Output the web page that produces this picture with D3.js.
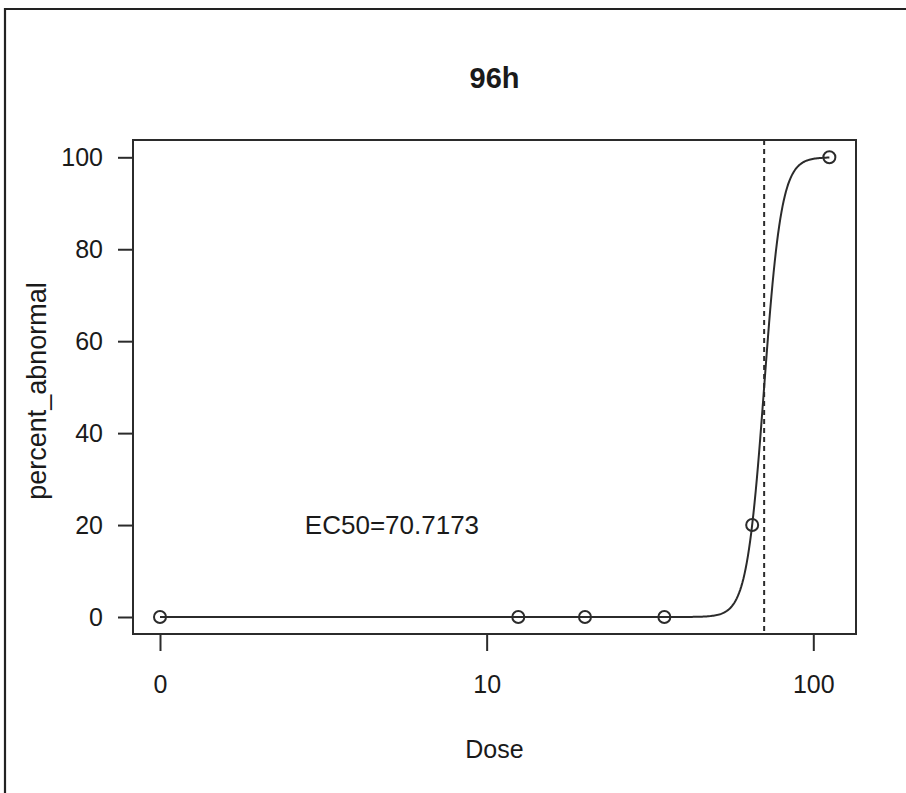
<!DOCTYPE html>
<html>
<head>
<meta charset="utf-8">
<script src="https://cdn.jsdelivr.net/npm/d3@7/dist/d3.min.js"></script>
<style>
  html, body { margin: 0; padding: 0; background: #fff; }
  svg { display: block; }
  text { font-family: "Liberation Sans", Arial, Helvetica, sans-serif; fill: #1a1a1a; }
</style>
</head>
<body>
<svg id="chart" width="906" height="793"></svg>
<script>
// Observed responses (percent abnormal) at each dose, 96 h exposure
const doses = [0, 12.5, 20, 35, 65, 112];
const percentAbnormal = [0, 0, 0, 0, 20, 100];

// Fitted two-parameter log-logistic model (lower 0, upper 100)
const ec50 = 70.7173;
const slope = 16.4;

// Axis ticks
const xTicks = [0, 10, 100];
const xTickLabels = ["0", "10", "100"];
const yTicks = [0, 20, 40, 60, 80, 100];

// Dose 0 is shown at the position of dose 1 on the log axis
const zeroDosePos = 1;

const svg = d3.select("#chart");
const W = 906, H = 793;
const box = { left: 133, right: 856, top: 140, bottom: 634 };

const x = d3.scaleLog().domain([1, 100]).range([160, 813.3]);
const y = d3.scaleLinear().domain([0, 100]).range([617, 157.3]);
const xPos = d => x(d === 0 ? zeroDosePos : d);

const ink = "#2b2b2b";

// Figure frame (left and top edges)
svg.append("path")
  .attr("d", `M5,${H} V9 H${W}`)
  .attr("fill", "none").attr("stroke", "#222").attr("stroke-width", 2.2);

// Title
svg.append("text")
  .attr("x", (box.left + box.right) / 2).attr("y", 88)
  .attr("text-anchor", "middle")
  .style("font-size", "29px").style("font-weight", "bold")
  .text("96h");

// Plot box
svg.append("rect")
  .attr("x", box.left).attr("y", box.top)
  .attr("width", box.right - box.left).attr("height", box.bottom - box.top)
  .attr("fill", "none").attr("stroke", ink).attr("stroke-width", 2);

// Y axis
const yAxis = d3.axisLeft(y).tickValues(yTicks).tickSize(15).tickPadding(15)
  .tickFormat(d3.format("d"));
const gy = svg.append("g").attr("transform", `translate(${box.left},0)`).call(yAxis);
gy.select(".domain").remove();
gy.selectAll(".tick line").attr("stroke", ink).attr("stroke-width", 2);
gy.selectAll(".tick text").style("font-size", "25px").attr("fill", "#1a1a1a")
  .style("font-family", "'Liberation Sans', Arial, sans-serif");

// X axis
const xAxis = d3.axisBottom(x).tickValues(xTicks.map(d => d === 0 ? zeroDosePos : d))
  .tickSize(17).tickPadding(24)
  .tickFormat((d, i) => xTickLabels[i]);
const gx = svg.append("g").attr("transform", `translate(0,${box.bottom})`).call(xAxis);
gx.select(".domain").remove();
gx.selectAll(".tick line").attr("stroke", ink).attr("stroke-width", 2);
gx.selectAll(".tick text").style("font-size", "25px").attr("fill", "#1a1a1a")
  .style("font-family", "'Liberation Sans', Arial, sans-serif");

// Axis titles
svg.append("text")
  .attr("x", (box.left + box.right) / 2).attr("y", 758)
  .attr("text-anchor", "middle").style("font-size", "25px")
  .text("Dose");
svg.append("text")
  .attr("transform", `translate(46,${(box.top + box.bottom) / 2 + 4}) rotate(-90)`)
  .attr("text-anchor", "middle").style("font-size", "27px")
  .text("percent_abnormal");

// Fitted dose-response curve
const model = d => 100 / (1 + Math.exp(-slope * (Math.log(d) - Math.log(ec50))));
const maxDose = d3.max(doses);
const curveDoses = d3.range(0, 601).map(i =>
  Math.exp(Math.log(zeroDosePos) + (Math.log(maxDose) - Math.log(zeroDosePos)) * i / 600));
svg.append("path")
  .datum(curveDoses)
  .attr("d", d3.line().x(d => x(d)).y(d => y(model(d))))
  .attr("fill", "none").attr("stroke", ink).attr("stroke-width", 2);

// EC50 reference line
svg.append("line")
  .attr("x1", x(ec50)).attr("x2", x(ec50))
  .attr("y1", box.top).attr("y2", box.bottom)
  .attr("stroke", ink).attr("stroke-width", 2).attr("stroke-dasharray", "5,4");

// Observed points
svg.append("g").selectAll("circle")
  .data(doses.map((d, i) => ({ d, v: percentAbnormal[i] })))
  .join("circle")
  .attr("cx", p => xPos(p.d)).attr("cy", p => y(p.v)).attr("r", 6)
  .attr("fill", "none").attr("stroke", ink).attr("stroke-width", 2);

// EC50 annotation
svg.append("text")
  .attr("x", x(5.13)).attr("y", y(20)).attr("dy", "0.36em")
  .attr("text-anchor", "middle").style("font-size", "26px")
  .text("EC50=" + ec50.toString());
</script>
</body>
</html>
